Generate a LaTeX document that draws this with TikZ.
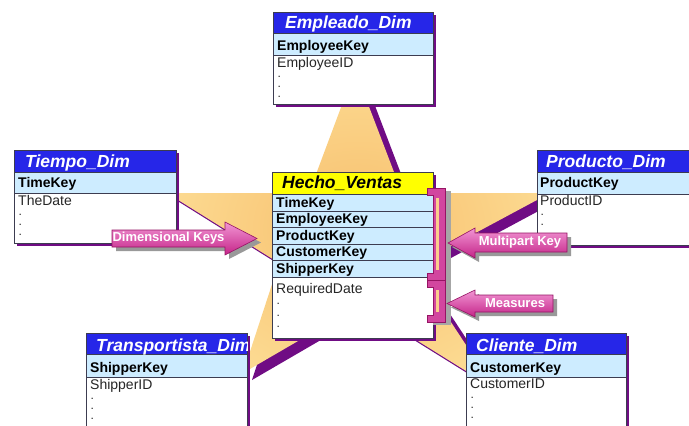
\documentclass[tikz,border=0pt]{standalone}
\usepackage{fontspec}
\setmainfont{Liberation Sans}
\definecolor{hdrblue}{RGB}{38,38,232}
\definecolor{keyblue}{RGB}{205,236,255}
\definecolor{shadowpurple}{RGB}{112,12,132}
\definecolor{starorange}{RGB}{247,190,108}
\definecolor{starpale}{RGB}{252,218,145}
\definecolor{boxdraw}{RGB}{60,60,80}
\definecolor{pinkdark}{RGB}{196,36,136}
\definecolor{pinklight}{RGB}{242,150,212}
\definecolor{pinkedge}{RGB}{150,20,100}
\definecolor{hechoyellow}{RGB}{255,255,0}
\definecolor{stripe}{RGB}{250,205,140}
\newcommand{\erbox}[6]{%
  \fill[shadowpurple] (#1+3,#2+3) rectangle (#3+3,#4+3);
  \fill[white] (#1,#2) rectangle (#3,#4);
  \fill[hdrblue] (#1,#2) rectangle (#3,#5);
  \fill[keyblue] (#1,#5) rectangle (#3,#6);
  \draw[boxline] (#1,#5) -- (#3,#5) (#1,#6) -- (#3,#6);
  \draw[boxline] (#1,#2) rectangle (#3,#4);
}
\begin{document}
\begin{tikzpicture}[x=1pt,y=-1pt,
  boxline/.style={draw=boxdraw, line width=0.7pt},
  hdrtext/.style={font=\fontsize{17.5}{17.5}\selectfont\bfseries\itshape, text=white, anchor=base west, inner sep=0pt},
  keytext/.style={font=\fontsize{14}{14}\selectfont\bfseries, text=black, anchor=base west, inner sep=0pt},
  fieldtext/.style={font=\fontsize{14}{14}\selectfont, text=black!85, anchor=base west, inner sep=0pt},
  dottext/.style={font=\fontsize{8.5}{8.5}\selectfont\bfseries, text=black!80, anchor=base west, inner sep=0pt},
  calltext/.style={font=\fontsize{13}{13}\selectfont\bfseries, text=white, inner sep=0pt},
  callout/.style={top color=pinklight, bottom color=pinkdark, draw=pinkedge, line width=0.6pt},
  calloutshadow/.style={fill=black!40},
  bracket/.style={fill=pinkdark!70!pinklight, draw=pinkedge, line width=0.6pt},
]
\useasboundingbox (0,0) rectangle (689,426);
\clip (0,0) rectangle (689,426);
\fill[white] (0,0) rectangle (689,426);

% star shadow and star
\fill[shadowpurple, shift={(9,7)}] (355,70) -- (402,193) -- (550,193) -- (414,266) -- (495,389) -- (360,305) -- (243,373) -- (279,263) -- (167,193) -- (309,193) -- cycle;
\shade[inner color=starorange, outer color=starpale] (355,70) -- (402,193) -- (550,193) -- (414,266) -- (495,389) -- (360,305) -- (243,373) -- (279,263) -- (167,193) -- (309,193) -- cycle;

% Empleado_Dim
\erbox{273}{12}{433}{104}{33}{55}
\node[hdrtext] (emph) at (285,28.5) {Empleado\_Dim};
\node[keytext] (empk) at (277,50) {EmployeeKey};
\node[fieldtext] (empi) at (277,67) {EmployeeID};
\node[dottext] (empd1) at (278,77.7) {.};
\node[dottext] (empd2) at (278,87.7) {.};
\node[dottext] (empd3) at (278,97.7) {.};

% Tiempo_Dim
\erbox{14}{150}{176}{243}{172}{193}
\node[hdrtext] (tieh) at (25,167) {Tiempo\_Dim};
\node[keytext] (tiek) at (18,187) {TimeKey};
\node[fieldtext] (tiei) at (18,205) {TheDate};
\node[dottext] (tied1) at (19,215.7) {.};
\node[dottext] (tied2) at (19,225.7) {.};
\node[dottext] (tied3) at (19,235.7) {.};

% Producto_Dim
\erbox{537}{150}{700}{245}{172}{194}
\node[hdrtext] (proh) at (546,167) {Producto\_Dim};
\node[keytext] (prok) at (540,187) {ProductKey};
\node[fieldtext] (proi) at (540,205) {ProductID};
\node[dottext] (prod1) at (541,215.7) {.};
\node[dottext] (prod2) at (541,225.7) {.};

% Transportista_Dim
\erbox{86}{333}{247}{440}{354}{377}
\begin{scope}
  \clip (86,333) rectangle (247,354);
  \node[hdrtext] (trah) at (96,351) {Transportista\_Dim};
\end{scope}
\node[keytext] (trak) at (90,372) {ShipperKey};
\node[fieldtext] (trai) at (90,389) {ShipperID};
\node[dottext] (trad1) at (91,399.7) {.};
\node[dottext] (trad2) at (91,409.7) {.};
\node[dottext] (trad3) at (91,419.7) {.};

% Cliente_Dim
\erbox{466}{333}{626}{440}{354}{377}
\node[hdrtext] (clih) at (476,351) {Cliente\_Dim};
\node[keytext] (clik) at (470,372) {CustomerKey};
\node[fieldtext] (clii) at (470,388) {CustomerID};
\node[dottext] (clid1) at (471,398.7) {.};
\node[dottext] (clid2) at (471,408.7) {.};
\node[dottext] (clid3) at (471,418.7) {.};

% Hecho_Ventas
\fill[shadowpurple] (275,175) rectangle (436,341);
\fill[white] (272,172) rectangle (433,338);
\fill[hechoyellow] (272,172) rectangle (433,194);
\fill[keyblue] (272,194) rectangle (433,277);
\draw[boxline] (272,194) -- (433,194) (272,211) -- (433,211) (272,227) -- (433,227)
  (272,244) -- (433,244) (272,260) -- (433,260) (272,277) -- (433,277);
\draw[boxline] (272,172) rectangle (433,338);
\node[hdrtext, text=black] (hech) at (282,188.5) {Hecho\_Ventas};
\node[keytext] (hk1) at (276,207) {TimeKey};
\node[keytext] (hk2) at (276,223.5) {EmployeeKey};
\node[keytext] (hk3) at (276,240) {ProductKey};
\node[keytext] (hk4) at (276,256.5) {CustomerKey};
\node[keytext] (hk5) at (276,273) {ShipperKey};
\node[fieldtext] (hf1) at (276,293.5) {RequiredDate};
\node[dottext] (hd1) at (277,304.5) {.};
\node[dottext] (hd2) at (277,316) {.};
\node[dottext] (hd3) at (277,327.5) {.};

% brackets
\begin{scope}[shift={(6,3)}]
  \fill[black!35] (427,188) -- (445,188) -- (445,322) -- (427,322) -- cycle;
\end{scope}
\path[bracket] (427,188) -- (445,188) -- (445,280) -- (427,280) -- (427,273) -- (433,273) -- (433,195) -- (427,195) -- cycle;
\path[bracket] (427,280) -- (445,280) -- (445,322) -- (427,322) -- (427,315) -- (433,315) -- (433,287) -- (427,287) -- cycle;
\fill[stripe] (436,198) rectangle (439,270);
\fill[stripe] (436,290) rectangle (439,312);

% callout arrows
\fill[calloutshadow, shift={(4,4)}] (112,230) -- (225,230) -- (225,222) -- (257,238.5) -- (225,255) -- (225,247) -- (112,247) -- cycle;
\shade[callout] (112,230) -- (225,230) -- (225,222) -- (257,238.5) -- (225,255) -- (225,247) -- (112,247) -- cycle;
\node[calltext] (dkeys) at (168.5,238.5) {Dimensional Keys};

\fill[calloutshadow, shift={(4,4)}] (567,233) -- (475,233) -- (475,228) -- (448,243) -- (475,258) -- (475,252) -- (567,252) -- cycle;
\shade[callout] (567,233) -- (475,233) -- (475,228) -- (448,243) -- (475,258) -- (475,252) -- (567,252) -- cycle;
\node[calltext] (mkey) at (520,242.5) {Multipart Key};

\fill[calloutshadow, shift={(4,4)}] (553,295) -- (475,295) -- (475,290) -- (447,303.5) -- (475,317) -- (475,312) -- (553,312) -- cycle;
\shade[callout] (553,295) -- (475,295) -- (475,290) -- (447,303.5) -- (475,317) -- (475,312) -- (553,312) -- cycle;
\node[calltext] (meas) at (515,303.5) {Measures};
\end{tikzpicture}
\end{document}
